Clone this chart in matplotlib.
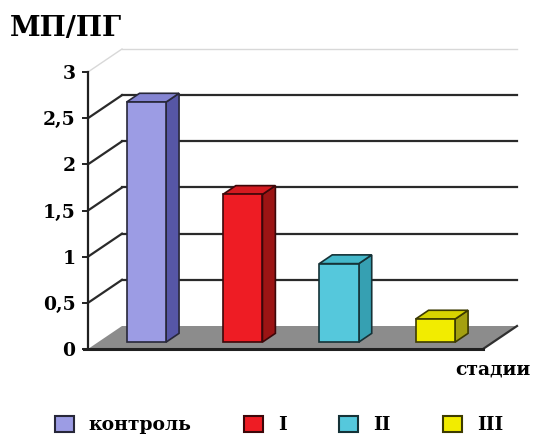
import matplotlib
matplotlib.use("Agg")
import matplotlib.pyplot as plt
from matplotlib.patches import Polygon, Patch
from matplotlib.colors import to_rgb

# ---- data ----
categories = ["контроль", "I", "II", "III"]
values = [2.6, 1.6, 0.85, 0.25]
yticks = [0, 0.5, 1, 1.5, 2, 2.5, 3]
ytick_labels = ["0", "0,5", "1", "1,5", "2", "2,5", "3"]
y_title = "МП/ПГ"
x_title = "стадии"

face_colors = ["#9c9ce4", "#ee1c24", "#55c8dc", "#f2ec00"]
side_colors = ["#5656a6", "#9c1414", "#36a0b2", "#a4a010"]
top_colors = ["#8484d2", "#d41a20", "#44b8ca", "#d8d400"]

plt.rcParams["font.family"] = ["DejaVu Serif", "Liberation Serif"]
plt.rcParams["font.weight"] = "bold"

W, H = 536, 436
fig = plt.figure(figsize=(W / 100, H / 100), dpi=100)

# front plane of the 3-D box
x0_px, x1_px = 88, 483
ytop_px, y0_px = 72, 349
ax = fig.add_axes([x0_px / W, (H - y0_px) / H, (x1_px - x0_px) / W, (y0_px - ytop_px) / H])
XMAX = 4.1
ax.set_xlim(0, XMAX)
ax.set_ylim(0, 3)

px_x = (x1_px - x0_px) / XMAX        # pixels per x unit
px_y = (y0_px - ytop_px) / 3.0       # pixels per y unit
DX = 34 / px_x                       # depth offset in data units
DY = 23 / px_y

# floor
floor = Polygon([(0, 0), (XMAX, 0), (XMAX + DX, DY), (DX, DY)], closed=True,
                facecolor="#8c8c8c", edgecolor="none", clip_on=False, zorder=1)
ax.add_patch(floor)
ax.plot([XMAX, XMAX + DX], [0, DY], color="#303030", lw=1.6, clip_on=False, zorder=2)
ax.plot([-0.04, XMAX], [0, 0], color="#202020", lw=2.2, clip_on=False, zorder=2)

# side wall diagonals and back wall gridlines
for v in yticks[1:]:
    col = "#d8d8d8" if v == 3 else "#2a2a2a"
    lw = 1.0 if v == 3 else 1.6
    ax.plot([0, DX], [v, v + DY], color=col, lw=lw, clip_on=False, zorder=1)
    ax.plot([DX, XMAX + DX], [v + DY, v + DY], color=col, lw=lw, clip_on=False, zorder=1)


def shade(c, k):
    r, g, b = to_rgb(c)
    return (r * k, g * k, b * k)


# bars: front faces via ax.bar, top and side faces from the same values
F0, F1 = 0.30, 0.68
BW = 0.41
xs = [i + 0.5 for i in range(len(values))]
for x, v, c, sc, tc in zip(xs, values, face_colors, side_colors, top_colors):
    l = x - BW / 2 + F0 * DX
    r = x + BW / 2 + F0 * DX
    b = F0 * DY
    t = v + F0 * DY
    ddx, ddy = (F1 - F0) * DX, (F1 - F0) * DY
    edge = shade(c, 0.25)
    side = Polygon([(r, b), (r + ddx, b + ddy), (r + ddx, t + ddy), (r, t)], closed=True,
                   facecolor=sc, edgecolor=edge, lw=1.2, clip_on=False, zorder=3)
    top = Polygon([(l, t), (r, t), (r + ddx, t + ddy), (l + ddx, t + ddy)], closed=True,
                  facecolor=tc, edgecolor=edge, lw=1.2, clip_on=False, zorder=3)
    ax.add_patch(side)
    ax.add_patch(top)
ax.bar([x + F0 * DX for x in xs], values, width=BW, bottom=F0 * DY,
       color=face_colors, edgecolor=[shade(c, 0.25) for c in face_colors],
       linewidth=1.2, zorder=4, clip_on=False)

# axes styling
for s in ["top", "right", "bottom"]:
    ax.spines[s].set_visible(False)
ax.spines["left"].set_color("#202020")
ax.spines["left"].set_linewidth(1.6)
ax.set_xticks([])
ax.set_yticks(yticks)
ax.set_yticklabels(ytick_labels, fontsize=13.5, fontweight="bold")
ax.tick_params(axis="y", length=4, width=1.4, color="#202020", pad=5)
ax.patch.set_alpha(0)

fig.text(10 / W, 1 - 15 / H, y_title, fontsize=20, fontweight="bold", ha="left", va="top")
fig.text(455 / W, 1 - 374 / H, x_title, fontsize=13.5, fontweight="bold", ha="left",
         va="baseline")

handles = [Patch(facecolor=c, edgecolor=shade(c, 0.25), linewidth=1.5) for c in face_colors]
fig.legend(handles, categories, loc="center", bbox_to_anchor=(279 / W, 1 - 425 / H),
           ncol=4, frameon=False, handlelength=1.0, handleheight=1.0,
           handletextpad=0.8, columnspacing=2.8, prop={"weight": "bold", "size": 13.5})

fig.savefig("out.png", dpi=100)
